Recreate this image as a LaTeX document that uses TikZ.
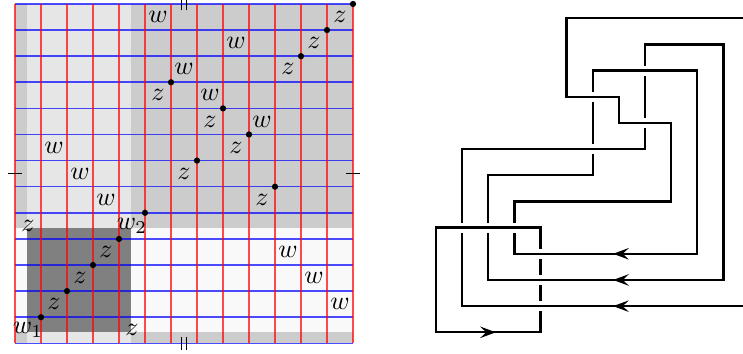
\documentclass[tikz,border=0pt]{standalone}
\usetikzlibrary{arrows.meta}
\definecolor{shA}{HTML}{CCCCCC}
\definecolor{shB}{HTML}{E6E6E6}
\definecolor{shC}{HTML}{F9F9F9}
\definecolor{shD}{HTML}{808080}
\tikzset{
  gridred/.style={red, opacity=0.7, line width=0.6pt},
  gridblue/.style={blue, opacity=0.7, line width=0.6pt},
  gdot/.style={circle, fill=black, inner sep=0pt, minimum size=2.4pt},
  lab/.style={inner sep=0pt},
  knot/.style={line width=0.9pt, line join=miter},
  tickmark/.style={line width=0.4pt},
  arr/.style={-{Stealth[length=6pt,width=4.4pt,inset=2.3pt]}, line width=0.9pt},
}
\begin{document}
\begin{tikzpicture}[x=0.385pt, y=0.385pt]
\useasboundingbox (0,0) rectangle (743,353);
\clip (0,0) rectangle (743,353);
% ---------------- grid diagram ----------------
\begin{scope}[shift={(15,9.7)}, x=10.01pt, y=10.05pt]
  \fill[shA] (0,0) rectangle (13,13);
  \fill[shB] (0.46,0) rectangle (4.46,13);
  \fill[shC] (0,0.42) rectangle (13,4.42);
  \fill[shD] (0.46,0.42) rectangle (4.46,4.42);
  \foreach \j in {0,...,13} \draw[gridblue] (0,\j) -- (13,\j);
  \foreach \i in {0,...,13} \draw[gridred] (\i,0) -- (\i,13);
  % ticks
  \draw[tickmark] (-0.27,6.5) -- (0.27,6.5);
  \draw[tickmark] (12.73,6.5) -- (13.27,6.5);
  \draw[tickmark] (6.42,12.75) -- (6.42,13.25);
  \draw[tickmark] (6.58,12.75) -- (6.58,13.25);
  \draw[tickmark] (6.42,-0.25) -- (6.42,0.25);
  \draw[tickmark] (6.58,-0.25) -- (6.58,0.25);
  % generator points
  \foreach \x/\y [count=\k] in {1/1,2/2,3/3,4/4,5/5,7/7,6/10,8/9,9/8,10/6,11/11,12/12,13/13}
    \node[gdot] (d\k) at (\x,\y) {};
  % labels w
  \foreach \x/\y [count=\k] in {5/12,6/10,8/11,7/9,9/8,1/7,2/6,3/5,10/3,11/2,12/1}
    \node[lab] (w\k) at (\x+0.5,\y+0.5) {$w$};
  \node[lab] (wone) at (0.5,0.5) {$w_1$};
  \node[lab] (wtwo) at (4.5,4.5) {$w_2$};
  % labels z
  \foreach \x/\y [count=\k] in {12/12,11/11,10/10,5/9,7/8,8/7,6/6,9/5,0/4,1/1,2/2,3/3,4/0}
    \node[lab] (z\k) at (\x+0.5,\y+0.5) {$z$};
\end{scope}
% ---------------- knot diagram ----------------
\begin{scope}[shift={(436,20.7)}, x=10.056pt, y=10.075pt]
  \draw[knot] (12,1) -- (1,1) -- (1,7) -- (8,7) -- (8,11) -- (11,11) -- (11,2)
    -- (2,2) -- (2,6) -- (6,6) -- (6,10) -- (10,10) -- (10,3) -- (3,3) -- (3,5)
    -- (9,5) -- (9,8) -- (7,8) -- (7,9) -- (5,9) -- (5,12) -- (12,12) -- cycle;
  \draw[knot] (0,0) -- (4,0) -- (4,4) -- (0,4) -- cycle;
  % crossings: horizontal strand over vertical strand
  \foreach \i/\j in {1/4,2/4,3/4,4/1,4/2,4/3,6/7,6/9,8/8,8/10} {
    \fill[white] (\i,\j) ++(-2pt,-1.95pt) rectangle ++(4pt,3.9pt);
    \draw[knot] (\i,\j) ++(-4pt,0) -- ++(8pt,0);
  }
  % orientation arrows
  \draw[arr] (7.5,1) -- (6.78,1);
  \draw[arr] (7.5,2) -- (6.78,2);
  \draw[arr] (7.5,3) -- (6.78,3);
  \draw[arr] (1.5,0) -- (2.29,0);
\end{scope}
\end{tikzpicture}
\end{document}
